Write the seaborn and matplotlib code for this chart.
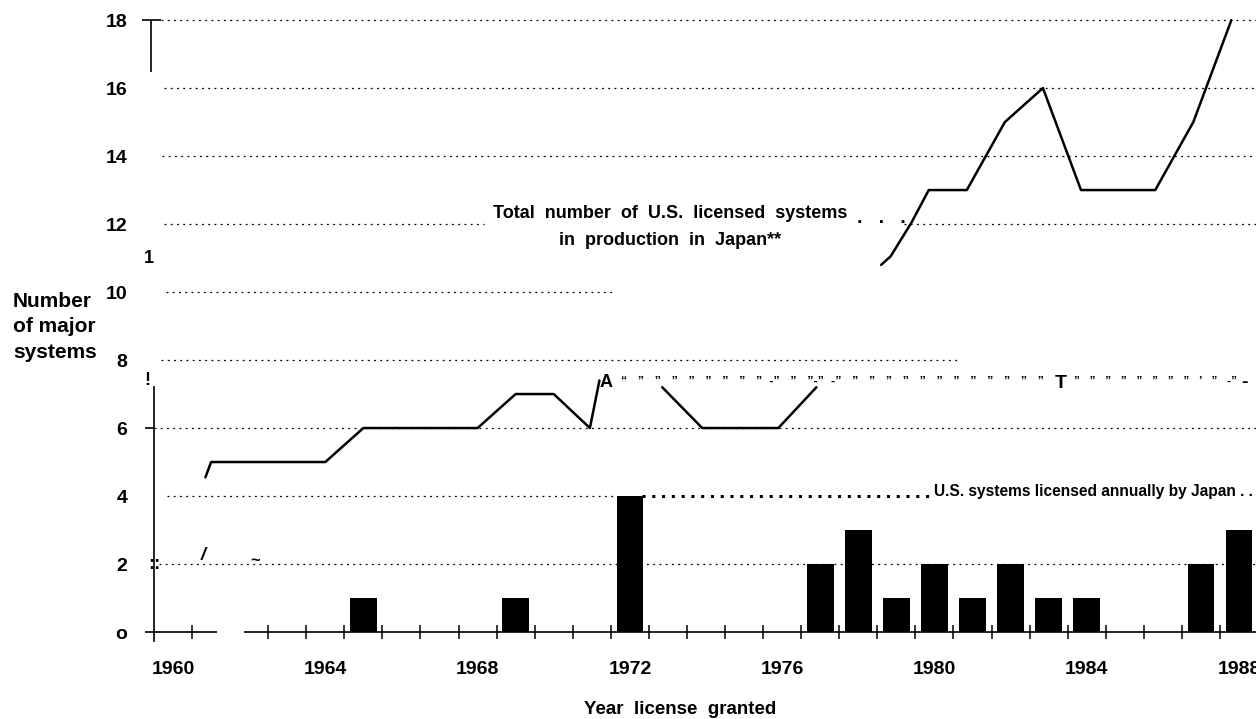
import matplotlib
matplotlib.use("Agg")
import matplotlib.pyplot as plt
from matplotlib import font_manager
import numpy as np
import pandas as pd
import seaborn as sns

sns.set_style("white")
plt.rcParams["font.family"] = ["Liberation Sans", "DejaVu Sans"]
plt.rcParams["font.weight"] = "bold"
plt.rcParams["text.color"] = "black"
plt.rcParams["xtick.color"] = "black"
plt.rcParams["ytick.color"] = "black"

# U.S. systems licensed annually by Japan (bars)
bar_years = [1965, 1969, 1972, 1977, 1978, 1979, 1980, 1981, 1982, 1983, 1984, 1987, 1988]
bar_counts = [1, 1, 4, 2, 3, 1, 2, 1, 2, 1, 1, 2, 3]

# total number of U.S. licensed systems in production (visible pieces of the trace)
line_years = [1960.85, 1961, 1964, 1965, 1968, 1969, 1970, 1970.95, 1971.2,
              1972.85, 1973.9, 1975.9, 1976.9,
              1978.6, 1978.85, 1979.4, 1979.85, 1980.85, 1981.85, 1982.85,
              1983.85, 1985.8, 1986.8, 1987.8]
line_values = [4.55, 5, 5, 6, 6, 7, 7, 6, 7.4,
               7.2, 6, 6, 7.2,
               10.8, 11.05, 12.05, 13, 13, 15, 16,
               13, 13, 15, 18]
line_piece = [0] * 9 + [1] * 4 + [2] * 11

x_ticks = [1960, 1964, 1968, 1972, 1976, 1980, 1984, 1988]
y_ticks = [0, 2, 4, 6, 8, 10, 12, 14, 16, 18]
y_tick_labels = ["o", "2", "4", "6", "8", "10", "12", "14", "16", "18"]

# dotted reference lines: level, start, end
grid_levels = [18, 16, 14, 12, 12, 10, 8, 6, 4, 2]
grid_starts = [1959.69, 1959.76, 1959.71, 1959.76, 1979.2, 1959.82, 1959.69, 1959.5, 1959.84, 1959.63]
grid_ends = [1988.5, 1988.5, 1988.5, 1968.17, 1988.5, 1971.53, 1980.7, 1988.5, 1971.66, 1988.5]

names = {f.name for f in font_manager.fontManager.ttflist}
narrow = "Liberation Sans Narrow" in names

fig = plt.figure(figsize=(12.56, 7.19), dpi=100)
ax = fig.add_axes([154 / 1256, 0.1068, 1 - 154 / 1256, 0.870])

dots = (0, (1.5, 3.5))
for lvl, x0, x1 in zip(grid_levels, grid_starts, grid_ends):
    ax.hlines(lvl, x0, x1, colors="black", linestyles=[dots], linewidth=0.9, zorder=1)
# heavy dotted leader before the bar-series caption
ax.hlines(4, 1972.32, 1979.86, colors="black", linestyles=[(0, (1, 2.2))], linewidth=2.2, zorder=1)

sns.barplot(x=bar_years, y=bar_counts, native_scale=True, width=0.7,
            color="black", saturation=1, errorbar=None, linewidth=0, ax=ax, zorder=3)

df = pd.DataFrame({"year": line_years, "value": line_values, "piece": line_piece})
sns.lineplot(data=df, x="year", y="value", units="piece", estimator=None, sort=False,
             color="black", linewidth=1.8, ax=ax, zorder=4)

# baseline (scan has a small break in it)
ax.hlines(0, 1959.26, 1961.16, colors="black", linewidth=1.2, clip_on=False)
ax.hlines(0, 1961.86, 1988.5, colors="black", linewidth=1.2, clip_on=False)
ax.hlines(6, 1959.26, 1959.5, colors="black", linewidth=1.2, clip_on=False)
ax.hlines(18, 1959.19, 1959.69, colors="black", linewidth=1.2, clip_on=False)
ax.vlines(1959.41, 16.47, 18, colors="black", linewidth=1.2, clip_on=False)

ax.set_xlim(1959.5, 1959.5 + (1256 - 154) / 38.07)
ax.set_ylim(-0.3, 18.1)
for side in ["top", "right", "bottom"]:
    ax.spines[side].set_visible(False)
ax.spines["bottom"].set_position(("data", 0))
ax.spines["left"].set_bounds(-0.26, 7.2)
ax.spines["left"].set_linewidth(1.2)
ax.spines["left"].set_color("black")

ax.set_xticks(x_ticks)
ax.set_xticklabels([str(x) for x in x_ticks], fontsize=14, fontweight="bold")
half_years = [y for y in np.arange(1960.5, 1988.5, 1) if y != 1961.5]
ax.set_xticks(half_years, minor=True)
ax.set_yticks(y_ticks)
ax.set_yticklabels(y_tick_labels, fontsize=14, fontweight="bold")
ax.tick_params(axis="x", which="both", bottom=True)
ax.tick_params(axis="x", which="major", length=0, pad=21)
ax.tick_params(axis="x", which="minor", direction="inout", length=10, width=1.1, color="black")
ax.tick_params(axis="y", length=0, pad=19)
ax.set_xlabel("")
ax.set_ylabel("")

fig.text(680 / 1256, 1 - 709 / 719, "Year  license  granted", ha="center", va="center",
         fontsize=13.5, fontweight="bold")
fig.text(13 / 1256, 1 - 327 / 719, "Number\nof major\nsystems", ha="left", va="center",
         fontsize=15, fontweight="bold", linespacing=1.45)

ax.text(1973.06, 12.32, "Total  number  of  U.S.  licensed  systems", ha="center", va="center",
        fontsize=13, fontweight="bold")
ax.text(1973.06, 11.53, "in  production  in  Japan**", ha="center", va="center",
        fontsize=13, fontweight="bold")
ax.text(1977.97, 12.15, ".   .   .", ha="left", va="center", fontsize=14, fontweight="bold")

if narrow:
    ax.text(1979.99, 4.12, "U.S. systems licensed annually by Japan . .", ha="left", va="center",
            fontsize=13.5, fontweight="bold", family=["Liberation Sans Narrow", "DejaVu Sans"])
else:
    ax.text(1979.99, 4.12, "U.S. systems licensed annually by Japan . .", ha="left", va="center",
            fontsize=11.2, fontweight="bold")

# scan artifacts that appear as characters in the reference
ax.text(1959.37, 11.0, "1", ha="center", va="center", fontsize=13, clip_on=False)
ax.text(1959.32, 7.4, "!", ha="center", va="center", fontsize=13, clip_on=False)
ax.text(1959.35, 2.0, "::", ha="left", va="center", fontsize=13, clip_on=False)
ax.text(1960.8, 2.25, "/", ha="center", va="center", fontsize=13, style="italic")
ax.text(1962.15, 2.1, "~", ha="center", va="center", fontsize=12)
ax.text(1971.37, 7.35, "A", ha="center", va="center", fontsize=13)
ax.text(1983.33, 7.3, "T", ha="center", va="center", fontsize=14)
ax.text(1988.15, 7.35, "-", ha="center", va="center", fontsize=14)
left_quotes = "“   ”   ”   ”   ”   ”   ”   ”   ”  -”   ”   ”-”  -”   ”   ”   ”   ”   ”   ”   ”   ”   ”   ”   ”   ”"
right_quotes = "”   ”   ”   ”   ”   ”   ”   ”   ’   ”   -”"
ax.text(1971.76, 7.35, left_quotes, ha="left", va="center", fontsize=9)
ax.text(1983.66, 7.35, right_quotes, ha="left", va="center", fontsize=8.5)

fig.savefig("out.png", dpi=100)
